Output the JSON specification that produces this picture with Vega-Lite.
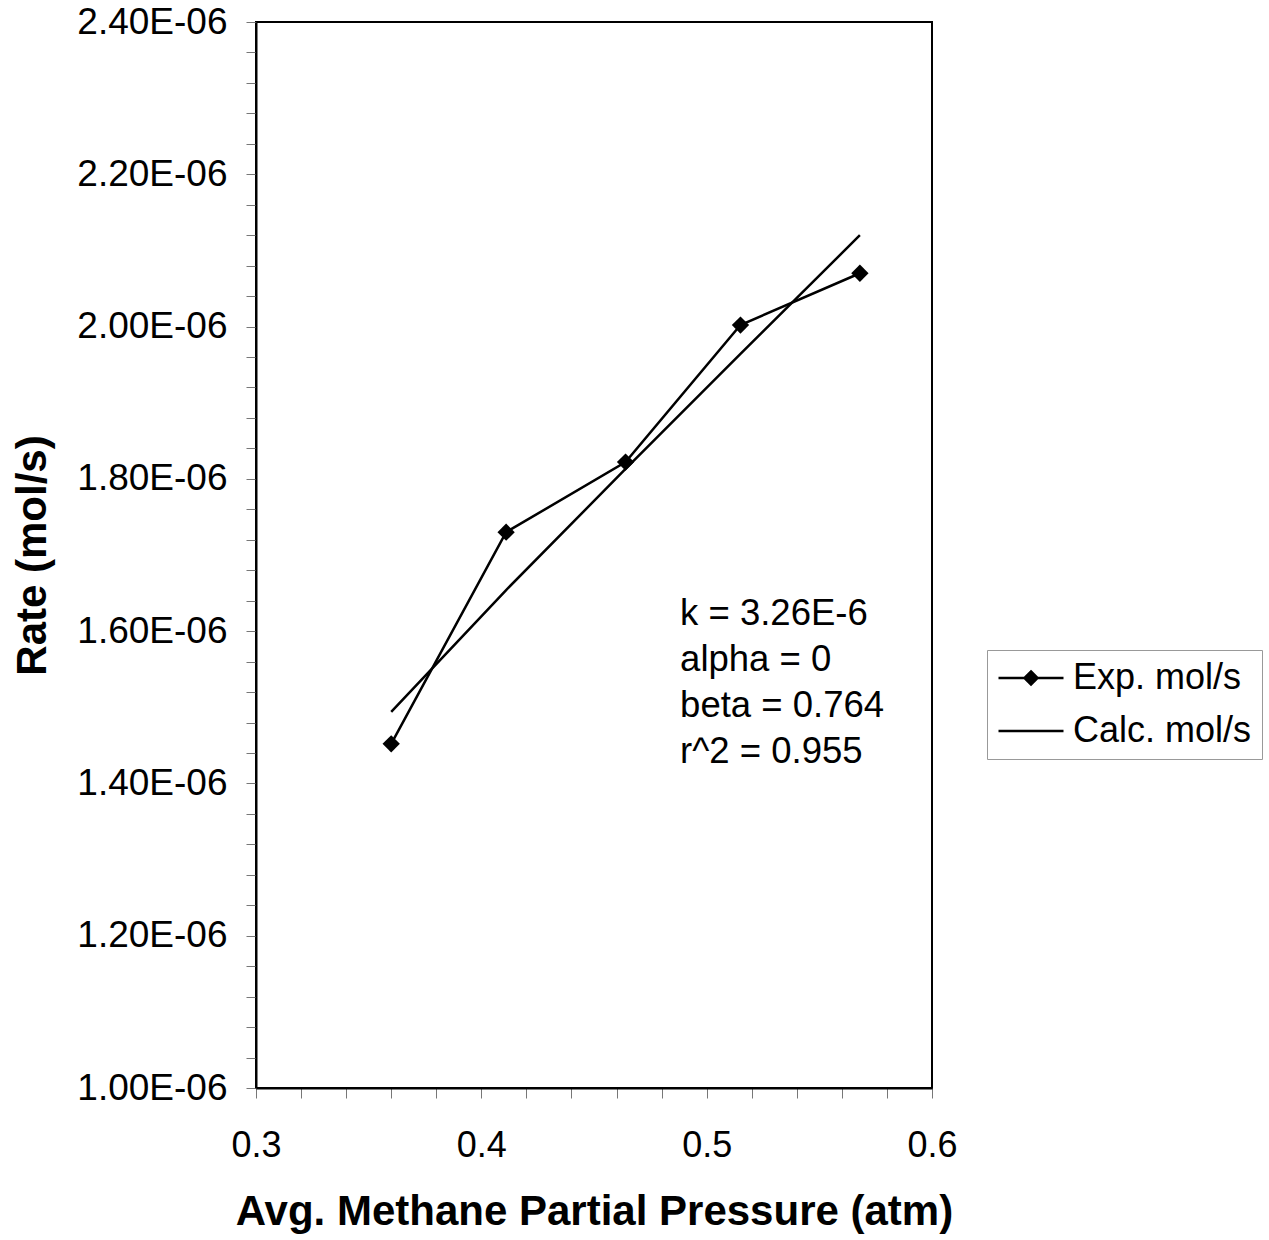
{
  "$schema": "https://vega.github.io/schema/vega-lite/v6.json",
  "width": 676,
  "height": 1066,
  "autosize": {"type": "none"},
  "padding": {"left": 256, "top": 22, "right": 337, "bottom": 152},
  "background": "white",
  "config": {
    "font": "Liberation Sans",
    "view": {"stroke": "black", "strokeWidth": 2},
    "axis": {
      "grid": false,
      "domainColor": "black",
      "domainWidth": 2,
      "tickColor": "#777777",
      "tickWidth": 1,
      "tickSize": 10,
      "labelColor": "black",
      "labelFont": "Liberation Sans",
      "titleFont": "Liberation Sans",
      "titleColor": "black",
      "titleFontWeight": "bold",
      "titleFontSize": 42,
      "labelOverlap": false,
      "labelFlush": false
    }
  },
  "data": {
    "values": [
      {"p": 0.360, "exp": 1.452e-6, "calc": 1.494e-6},
      {"p": 0.411, "exp": 1.730e-6, "calc": 1.654e-6},
      {"p": 0.464, "exp": 1.822e-6, "calc": 1.813e-6},
      {"p": 0.515, "exp": 2.002e-6, "calc": 1.964e-6},
      {"p": 0.568, "exp": 2.070e-6, "calc": 2.120e-6}
    ]
  },
  "encoding": {
    "x": {
      "field": "p",
      "type": "quantitative",
      "title": "Avg. Methane Partial Pressure (atm)",
      "scale": {"domain": [0.3, 0.6], "nice": false, "zero": false},
      "axis": {
        "values": [0.3, 0.32, 0.34, 0.36, 0.38, 0.4, 0.42, 0.44, 0.46, 0.48, 0.5, 0.52, 0.54, 0.56, 0.58, 0.6],
        "tickCount": 20,
        "labelExpr": "abs(datum.value*10 - round(datum.value*10)) < 0.01 ? format(datum.value, '.1f') : ''",
        "labelOverlap": false,
        "labelFontSize": 36,
        "labelPadding": 30,
        "titlePadding": 28
      }
    }
  },
  "layer": [
    {
      "mark": {"type": "line", "color": "black", "strokeWidth": 2.5},
      "encoding": {
        "y": {
          "field": "exp",
          "type": "quantitative",
          "title": "Rate (mol/s)",
          "scale": {"domain": [1e-6, 2.4e-6], "nice": false, "zero": false},
          "axis": {
            "values": [1e-6, 1.04e-6, 1.08e-6, 1.12e-6, 1.16e-6, 1.2e-6, 1.24e-6, 1.28e-6, 1.32e-6, 1.36e-6, 1.4e-6, 1.44e-6, 1.48e-6, 1.52e-6, 1.56e-6, 1.6e-6, 1.64e-6, 1.68e-6, 1.72e-6, 1.76e-6, 1.8e-6, 1.84e-6, 1.88e-6, 1.92e-6, 1.96e-6, 2e-6, 2.04e-6, 2.08e-6, 2.12e-6, 2.16e-6, 2.2e-6, 2.24e-6, 2.28e-6, 2.32e-6, 2.36e-6, 2.4e-6],
            "tickCount": 40,
            "labelExpr": "abs(datum.value*5e6 - round(datum.value*5e6)) < 0.01 ? format(datum.value*1e6, '.2f') + 'E-06' : ''",
            "labelOverlap": false,
            "labelFontSize": 37,
            "labelPadding": 19,
            "titlePadding": 22
          }
        }
      }
    },
    {
      "mark": {"type": "point", "shape": "diamond", "filled": true, "color": "black", "size": 300, "opacity": 1},
      "encoding": {"y": {"field": "exp", "type": "quantitative"}}
    },
    {
      "mark": {"type": "line", "color": "black", "strokeWidth": 2.5},
      "encoding": {"y": {"field": "calc", "type": "quantitative"}}
    },
    {
      "data": {"values": [
        {"p": 0.4882, "rate": 1.6225e-6, "label": "k = 3.26E-6"},
        {"p": 0.4882, "rate": 1.5621e-6, "label": "alpha = 0"},
        {"p": 0.4882, "rate": 1.5017e-6, "label": "beta = 0.764"},
        {"p": 0.4882, "rate": 1.4413e-6, "label": "r^2 = 0.955"}
      ]},
      "mark": {"type": "text", "align": "left", "baseline": "middle", "fontSize": 36.5, "font": "Liberation Sans", "color": "black"},
      "encoding": {
        "y": {"field": "rate", "type": "quantitative"},
        "text": {"field": "label", "type": "nominal"}
      }
    },
    {
      "data": {"values": []},
      "mark": {"type": "point", "filled": true, "color": "black", "stroke": "black", "strokeWidth": 2.5, "opacity": 1},
      "encoding": {
        "shape": {
          "field": "series",
          "type": "nominal",
          "scale": {
            "domain": ["Exp. mol/s", "Calc. mol/s"],
            "range": ["M-1,0H1M0,-0.2L0.2,0L0,0.2L-0.2,0Z", "M-1,0H1"]
          },
          "legend": {
            "title": null,
            "orient": "none",
            "legendX": 731,
            "legendY": 628,
            "padding": 10,
            "strokeColor": "#999999",
            "symbolSize": 4225,
            "symbolStrokeWidth": 2.5,
            "clipHeight": 36,
            "rowPadding": 17,
            "labelFontSize": 36,
            "labelFont": "Liberation Sans",
            "labelColor": "black",
            "labelOffset": 8,
            "labelLimit": 400,
            "encode": {
              "symbols": {
                "update": {
                  "stroke": {"value": "black"},
                  "strokeWidth": {"value": 2.5},
                  "fill": {"value": "black"},
                  "opacity": {"value": 1},
                  "strokeOpacity": {"value": 1},
                  "fillOpacity": {"value": 1}
                }
              }
            }
          }
        }
      }
    }
  ]
}
